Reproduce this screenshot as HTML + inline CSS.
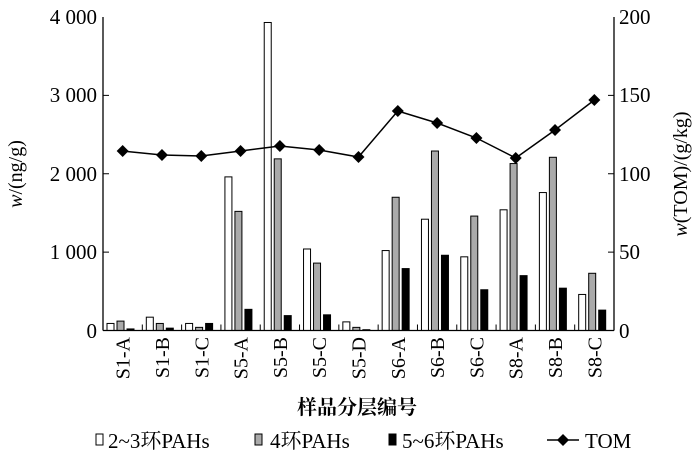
<!DOCTYPE html>
<html><head><meta charset="utf-8"><style>
html,body{margin:0;padding:0;background:#fff;}
svg{display:block;}
text,tspan{font-family:"Liberation Serif",serif;}
.c{font-family:"Noto Serif CJK SC","Noto Sans CJK SC",serif;}
</style></head><body>
<svg width="700" height="457" viewBox="0 0 700 457" xmlns="http://www.w3.org/2000/svg">
<g id="bars" stroke="#000" stroke-width="1"></g>
<g stroke="#000" stroke-width="1.3" fill="none">
<line x1="103" y1="17" x2="103" y2="330.5"/>
<line x1="614" y1="17" x2="614" y2="330.5"/>
<line x1="103" y1="330.5" x2="614" y2="330.5"/>
</g>
<g id="ticks" stroke="#000" stroke-width="1"></g>
<g font-size="21" text-anchor="end">
<text x="97" y="24">4 000</text>
<text x="97" y="102">3 000</text>
<text x="97" y="181">2 000</text>
<text x="97" y="259">1 000</text>
<text x="97" y="338">0</text>
</g>
<g font-size="21" text-anchor="start">
<text x="619" y="24">200</text>
<text x="619" y="102">150</text>
<text x="619" y="181">100</text>
<text x="619" y="259">50</text>
<text x="619" y="338">0</text>
</g>
<g id="xl" font-size="20"></g>
<polyline id="tom" fill="none" stroke="#000" stroke-width="1.5"/>
<g id="dia" fill="#000"></g>
<text x="22" y="174" font-size="20" text-anchor="middle" transform="rotate(-90 22 174)"><tspan font-style="italic">w</tspan>/(ng/g)</text>
<text x="687" y="174" font-size="20" text-anchor="middle" transform="rotate(-90 687 174)"><tspan font-style="italic">w</tspan>(TOM)/(g/kg)</text>
<text class="c" x="357" y="414" font-size="20" font-weight="bold" text-anchor="middle">样品分层编号</text>
<g font-size="21">
<rect x="96" y="434" width="7" height="11" fill="#fff" stroke="#000"/>
<text x="108" y="448">2~3<tspan class="c">环</tspan>PAHs</text>
<rect x="255" y="434" width="7" height="11" fill="#aaa" stroke="#000"/>
<text x="270" y="448">4<tspan class="c">环</tspan>PAHs</text>
<rect x="389" y="434" width="7" height="11" fill="#000" stroke="#000"/>
<text x="402" y="448">5~6<tspan class="c">环</tspan>PAHs</text>
<line x1="547" y1="440" x2="579" y2="440" stroke="#000" stroke-width="1.5"/>
<path d="M563 434 L569 440 L563 446 L557 440Z" fill="#000"/>
<text x="585" y="448">TOM</text>
</g>
</svg>
<script>
const ns="http://www.w3.org/2000/svg";
const names=["S1-A","S1-B","S1-C","S5-A","S5-B","S5-C","S5-D","S6-A","S6-B","S6-C","S8-A","S8-B","S8-C"];
const d=[[90,120,20],[170,90,30],[90,40,90],[1960,1520,270],[3930,2190,190],[1040,860,200],[110,40,10],[1020,1700,790],[1420,2290,960],[940,1460,520],[1540,2130,700],[1760,2210,540],[460,730,260]];
const tom=[151,155,156,151,146,150,157,111,123,138,158,130,100];
const x0=103,gw=511/13,y0=330.5,k=313.5/4000;
const fills=["#fff","#aaa","#000"];
const bars=document.getElementById("bars"),ticks=document.getElementById("ticks"),xl=document.getElementById("xl"),dia=document.getElementById("dia");
let pts=[];
function el(t,a,p){const e=document.createElementNS(ns,t);for(const q in a)e.setAttribute(q,a[q]);p.appendChild(e);return e;}
d.forEach((g,i)=>{
 const gx=x0+i*gw;
 g.forEach((v,j)=>{const h=v*k;el("rect",{x:gx+4+j*10,y:y0-h,width:7,height:h,fill:fills[j]},bars);});
 if(i<12)el("line",{x1:gx+gw,y1:y0,x2:gx+gw,y2:y0-6},ticks);
 const cx=gx+gw/2;
 const t=el("text",{x:0,y:0,transform:`translate(${cx+7},${337}) rotate(-90)`,"text-anchor":"end"},xl);t.textContent=names[i];
 pts.push(cx+","+tom[i]);
 el("path",{d:`M${cx} ${tom[i]-6} L${cx+6} ${tom[i]} L${cx} ${tom[i]+6} L${cx-6} ${tom[i]}Z`},dia);
});
document.getElementById("tom").setAttribute("points",pts.join(" "));
[1,2,3].forEach(n=>{const y=y0-n*1000*k;el("line",{x1:x0,y1:y,x2:x0+6,y2:y},ticks);el("line",{x1:614,y1:y,x2:608,y2:y},ticks);});
</script>
</body></html>
